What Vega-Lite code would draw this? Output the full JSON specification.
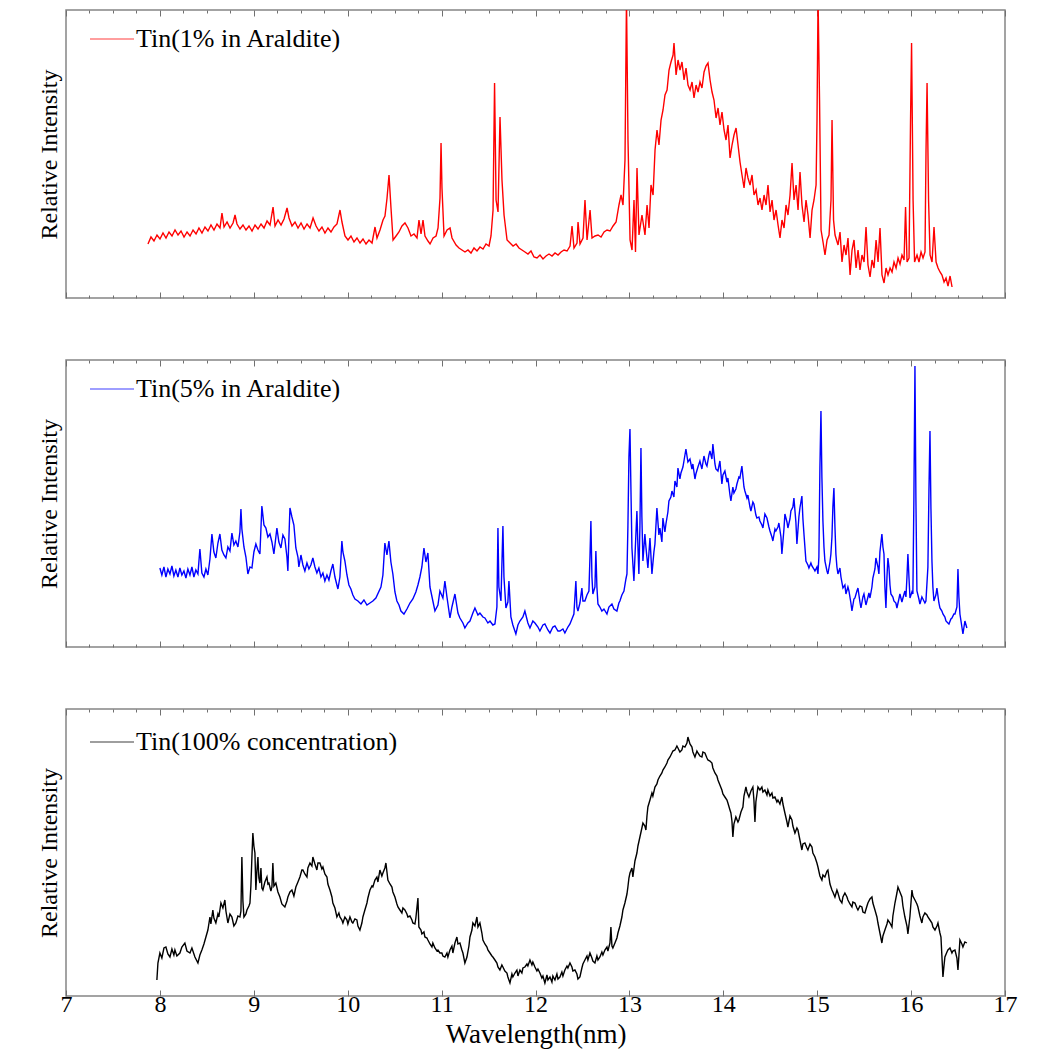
{
"$schema":"https://vega.github.io/schema/vega-lite/v6.json",
"background":"white",
"padding":{"left":36,"top":8,"right":20,"bottom":2},
"spacing":58,
"config":{
 "view":{"stroke":"#858585","strokeWidth":1.5,"fill":"white"},
 "font":"Liberation Serif",
 "axis":{"labelFont":"Liberation Serif","titleFont":"Liberation Serif","titleFontWeight":"normal","titleColor":"black","labelColor":"black","tickColor":"#707070","tickWidth":1,"domain":false,"grid":false},
 "legend":{"labelFont":"Liberation Serif","labelFontSize":26,"labelColor":"black","labelLimit":600,"padding":0,"symbolType":"stroke","symbolSize":1936,"symbolStrokeWidth":1.5,"symbolOpacity":0.5,"labelOffset":1}
},
"datasets":{
"red":[{"x":7.873,"y":54},{"x":7.905,"y":61},{"x":7.937,"y":57},{"x":7.969,"y":63},{"x":8.001,"y":59},{"x":8.033,"y":65},{"x":8.065,"y":60},{"x":8.097,"y":66},{"x":8.129,"y":62},{"x":8.161,"y":68},{"x":8.193,"y":63},{"x":8.225,"y":67},{"x":8.257,"y":61},{"x":8.289,"y":66},{"x":8.321,"y":62},{"x":8.353,"y":68},{"x":8.385,"y":64},{"x":8.416,"y":70},{"x":8.448,"y":65},{"x":8.48,"y":71},{"x":8.512,"y":67},{"x":8.544,"y":73},{"x":8.576,"y":68},{"x":8.608,"y":74},{"x":8.64,"y":70},{"x":8.661,"y":85},{"x":8.683,"y":71},{"x":8.715,"y":76},{"x":8.747,"y":70},{"x":8.779,"y":75},{"x":8.8,"y":83},{"x":8.821,"y":74},{"x":8.853,"y":69},{"x":8.885,"y":73},{"x":8.917,"y":68},{"x":8.949,"y":72},{"x":8.981,"y":67},{"x":9.013,"y":73},{"x":9.045,"y":69},{"x":9.077,"y":74},{"x":9.109,"y":70},{"x":9.141,"y":77},{"x":9.173,"y":73},{"x":9.205,"y":91},{"x":9.226,"y":72},{"x":9.258,"y":78},{"x":9.29,"y":73},{"x":9.322,"y":79},{"x":9.354,"y":90},{"x":9.375,"y":80},{"x":9.407,"y":72},{"x":9.439,"y":76},{"x":9.471,"y":70},{"x":9.503,"y":75},{"x":9.535,"y":69},{"x":9.567,"y":74},{"x":9.599,"y":70},{"x":9.631,"y":80},{"x":9.663,"y":72},{"x":9.694,"y":67},{"x":9.726,"y":71},{"x":9.758,"y":65},{"x":9.79,"y":70},{"x":9.822,"y":66},{"x":9.854,"y":71},{"x":9.886,"y":74},{"x":9.918,"y":88},{"x":9.939,"y":76},{"x":9.971,"y":62},{"x":10.003,"y":58},{"x":10.035,"y":62},{"x":10.067,"y":56},{"x":10.099,"y":60},{"x":10.131,"y":55},{"x":10.163,"y":59},{"x":10.195,"y":54},{"x":10.227,"y":58},{"x":10.259,"y":55},{"x":10.291,"y":71},{"x":10.312,"y":60},{"x":10.344,"y":68},{"x":10.376,"y":78},{"x":10.397,"y":82},{"x":10.419,"y":100},{"x":10.44,"y":123},{"x":10.461,"y":90},{"x":10.483,"y":58},{"x":10.515,"y":62},{"x":10.546,"y":66},{"x":10.578,"y":72},{"x":10.61,"y":75},{"x":10.642,"y":70},{"x":10.674,"y":62},{"x":10.706,"y":64},{"x":10.738,"y":60},{"x":10.759,"y":78},{"x":10.781,"y":64},{"x":10.802,"y":78},{"x":10.823,"y":62},{"x":10.855,"y":57},{"x":10.877,"y":54},{"x":10.909,"y":60},{"x":10.941,"y":62},{"x":10.962,"y":70},{"x":10.983,"y":100},{"x":10.994,"y":155},{"x":11.004,"y":110},{"x":11.026,"y":62},{"x":11.058,"y":68},{"x":11.09,"y":70},{"x":11.111,"y":60},{"x":11.154,"y":53},{"x":11.185,"y":50},{"x":11.217,"y":48},{"x":11.249,"y":46},{"x":11.281,"y":48},{"x":11.313,"y":45},{"x":11.345,"y":50},{"x":11.377,"y":47},{"x":11.409,"y":51},{"x":11.441,"y":49},{"x":11.473,"y":54},{"x":11.505,"y":52},{"x":11.526,"y":62},{"x":11.548,"y":88},{"x":11.564,"y":215},{"x":11.58,"y":98},{"x":11.601,"y":86},{"x":11.622,"y":181},{"x":11.643,"y":118},{"x":11.665,"y":83},{"x":11.697,"y":58},{"x":11.729,"y":55},{"x":11.761,"y":52},{"x":11.793,"y":54},{"x":11.824,"y":50},{"x":11.856,"y":48},{"x":11.888,"y":46},{"x":11.92,"y":44},{"x":11.952,"y":47},{"x":11.984,"y":41},{"x":12.016,"y":40},{"x":12.048,"y":43},{"x":12.08,"y":39},{"x":12.112,"y":42},{"x":12.144,"y":44},{"x":12.176,"y":42},{"x":12.208,"y":45},{"x":12.24,"y":43},{"x":12.272,"y":46},{"x":12.304,"y":48},{"x":12.336,"y":47},{"x":12.368,"y":52},{"x":12.389,"y":72},{"x":12.41,"y":50},{"x":12.442,"y":55},{"x":12.453,"y":76},{"x":12.474,"y":54},{"x":12.506,"y":60},{"x":12.527,"y":98},{"x":12.549,"y":58},{"x":12.581,"y":88},{"x":12.602,"y":60},{"x":12.634,"y":62},{"x":12.666,"y":63},{"x":12.698,"y":61},{"x":12.73,"y":66},{"x":12.762,"y":68},{"x":12.794,"y":67},{"x":12.826,"y":72},{"x":12.858,"y":76},{"x":12.889,"y":93},{"x":12.911,"y":103},{"x":12.932,"y":93},{"x":12.953,"y":138},{"x":12.969,"y":300},{"x":12.985,"y":158},{"x":13.007,"y":58},{"x":13.028,"y":48},{"x":13.049,"y":98},{"x":13.065,"y":46},{"x":13.081,"y":130},{"x":13.102,"y":63},{"x":13.134,"y":83},{"x":13.166,"y":63},{"x":13.188,"y":93},{"x":13.209,"y":70},{"x":13.23,"y":113},{"x":13.252,"y":103},{"x":13.273,"y":148},{"x":13.294,"y":168},{"x":13.315,"y":153},{"x":13.337,"y":178},{"x":13.358,"y":188},{"x":13.379,"y":203},{"x":13.401,"y":208},{"x":13.422,"y":228},{"x":13.443,"y":236},{"x":13.465,"y":243},{"x":13.475,"y":255},{"x":13.497,"y":223},{"x":13.518,"y":238},{"x":13.539,"y":228},{"x":13.56,"y":236},{"x":13.582,"y":218},{"x":13.603,"y":230},{"x":13.624,"y":213},{"x":13.646,"y":208},{"x":13.667,"y":216},{"x":13.688,"y":200},{"x":13.71,"y":213},{"x":13.731,"y":206},{"x":13.752,"y":216},{"x":13.773,"y":210},{"x":13.795,"y":226},{"x":13.816,"y":232},{"x":13.837,"y":235},{"x":13.859,"y":218},{"x":13.88,"y":206},{"x":13.901,"y":198},{"x":13.923,"y":180},{"x":13.944,"y":190},{"x":13.965,"y":173},{"x":13.986,"y":186},{"x":14.008,"y":168},{"x":14.029,"y":158},{"x":14.05,"y":173},{"x":14.072,"y":140},{"x":14.093,"y":153},{"x":14.114,"y":163},{"x":14.136,"y":170},{"x":14.157,"y":153},{"x":14.178,"y":136},{"x":14.199,"y":123},{"x":14.221,"y":110},{"x":14.242,"y":130},{"x":14.263,"y":120},{"x":14.285,"y":113},{"x":14.306,"y":123},{"x":14.327,"y":103},{"x":14.349,"y":108},{"x":14.37,"y":93},{"x":14.391,"y":100},{"x":14.412,"y":88},{"x":14.434,"y":103},{"x":14.455,"y":93},{"x":14.476,"y":113},{"x":14.498,"y":86},{"x":14.519,"y":98},{"x":14.54,"y":78},{"x":14.562,"y":88},{"x":14.583,"y":73},{"x":14.604,"y":60},{"x":14.625,"y":78},{"x":14.647,"y":70},{"x":14.668,"y":93},{"x":14.689,"y":83},{"x":14.711,"y":103},{"x":14.732,"y":135},{"x":14.753,"y":98},{"x":14.775,"y":113},{"x":14.796,"y":88},{"x":14.817,"y":126},{"x":14.838,"y":93},{"x":14.86,"y":76},{"x":14.881,"y":98},{"x":14.902,"y":83},{"x":14.924,"y":60},{"x":14.945,"y":88},{"x":14.966,"y":98},{"x":14.988,"y":113},{"x":14.998,"y":178},{"x":15.009,"y":300},{"x":15.025,"y":198},{"x":15.041,"y":68},{"x":15.062,"y":56},{"x":15.083,"y":43},{"x":15.105,"y":58},{"x":15.126,"y":63},{"x":15.147,"y":98},{"x":15.158,"y":178},{"x":15.174,"y":78},{"x":15.19,"y":63},{"x":15.222,"y":53},{"x":15.243,"y":66},{"x":15.264,"y":36},{"x":15.286,"y":53},{"x":15.307,"y":43},{"x":15.328,"y":60},{"x":15.35,"y":23},{"x":15.371,"y":48},{"x":15.392,"y":58},{"x":15.414,"y":30},{"x":15.435,"y":48},{"x":15.456,"y":28},{"x":15.477,"y":43},{"x":15.499,"y":36},{"x":15.52,"y":71},{"x":15.541,"y":33},{"x":15.563,"y":21},{"x":15.584,"y":38},{"x":15.605,"y":30},{"x":15.627,"y":58},{"x":15.648,"y":36},{"x":15.669,"y":70},{"x":15.69,"y":23},{"x":15.712,"y":15},{"x":15.733,"y":30},{"x":15.754,"y":23},{"x":15.776,"y":30},{"x":15.797,"y":26},{"x":15.818,"y":36},{"x":15.84,"y":30},{"x":15.861,"y":40},{"x":15.882,"y":34},{"x":15.903,"y":43},{"x":15.925,"y":38},{"x":15.941,"y":91},{"x":15.957,"y":36},{"x":15.978,"y":40},{"x":15.994,"y":178},{"x":16.005,"y":255},{"x":16.021,"y":98},{"x":16.037,"y":36},{"x":16.063,"y":43},{"x":16.084,"y":36},{"x":16.106,"y":46},{"x":16.127,"y":40},{"x":16.148,"y":46},{"x":16.159,"y":148},{"x":16.17,"y":215},{"x":16.186,"y":98},{"x":16.202,"y":43},{"x":16.223,"y":36},{"x":16.244,"y":71},{"x":16.266,"y":36},{"x":16.287,"y":30},{"x":16.308,"y":26},{"x":16.329,"y":23},{"x":16.351,"y":16},{"x":16.372,"y":20},{"x":16.393,"y":12},{"x":16.415,"y":22},{"x":16.436,"y":11}],
"blue":[{"x":8.0,"y":79},{"x":8.021,"y":72},{"x":8.043,"y":80},{"x":8.064,"y":70},{"x":8.085,"y":78},{"x":8.107,"y":73},{"x":8.128,"y":81},{"x":8.149,"y":71},{"x":8.17,"y":77},{"x":8.192,"y":70},{"x":8.213,"y":79},{"x":8.234,"y":72},{"x":8.256,"y":76},{"x":8.277,"y":69},{"x":8.298,"y":78},{"x":8.32,"y":72},{"x":8.341,"y":80},{"x":8.362,"y":70},{"x":8.383,"y":77},{"x":8.405,"y":73},{"x":8.426,"y":98},{"x":8.447,"y":74},{"x":8.469,"y":70},{"x":8.49,"y":78},{"x":8.511,"y":72},{"x":8.533,"y":88},{"x":8.554,"y":113},{"x":8.575,"y":95},{"x":8.596,"y":89},{"x":8.618,"y":104},{"x":8.639,"y":113},{"x":8.66,"y":97},{"x":8.682,"y":92},{"x":8.703,"y":89},{"x":8.724,"y":100},{"x":8.746,"y":96},{"x":8.767,"y":114},{"x":8.788,"y":102},{"x":8.809,"y":106},{"x":8.831,"y":100},{"x":8.852,"y":115},{"x":8.863,"y":138},{"x":8.873,"y":118},{"x":8.895,"y":100},{"x":8.916,"y":90},{"x":8.937,"y":73},{"x":8.959,"y":80},{"x":8.98,"y":79},{"x":9.001,"y":95},{"x":9.022,"y":103},{"x":9.044,"y":97},{"x":9.065,"y":93},{"x":9.086,"y":141},{"x":9.108,"y":122},{"x":9.129,"y":119},{"x":9.15,"y":110},{"x":9.172,"y":113},{"x":9.193,"y":105},{"x":9.214,"y":93},{"x":9.235,"y":110},{"x":9.246,"y":119},{"x":9.267,"y":105},{"x":9.289,"y":99},{"x":9.31,"y":112},{"x":9.331,"y":108},{"x":9.353,"y":90},{"x":9.363,"y":76},{"x":9.374,"y":110},{"x":9.385,"y":139},{"x":9.406,"y":130},{"x":9.427,"y":122},{"x":9.448,"y":99},{"x":9.47,"y":90},{"x":9.48,"y":80},{"x":9.502,"y":92},{"x":9.523,"y":82},{"x":9.544,"y":76},{"x":9.566,"y":84},{"x":9.587,"y":78},{"x":9.608,"y":82},{"x":9.629,"y":89},{"x":9.651,"y":80},{"x":9.672,"y":74},{"x":9.693,"y":79},{"x":9.715,"y":70},{"x":9.736,"y":74},{"x":9.757,"y":66},{"x":9.779,"y":72},{"x":9.8,"y":67},{"x":9.821,"y":76},{"x":9.842,"y":83},{"x":9.864,"y":70},{"x":9.885,"y":62},{"x":9.896,"y":58},{"x":9.917,"y":70},{"x":9.938,"y":106},{"x":9.949,"y":95},{"x":9.97,"y":86},{"x":9.992,"y":72},{"x":10.013,"y":62},{"x":10.034,"y":58},{"x":10.055,"y":52},{"x":10.077,"y":48},{"x":10.109,"y":46},{"x":10.141,"y":43},{"x":10.173,"y":47},{"x":10.205,"y":42},{"x":10.237,"y":44},{"x":10.268,"y":46},{"x":10.3,"y":49},{"x":10.354,"y":60},{"x":10.375,"y":72},{"x":10.396,"y":104},{"x":10.418,"y":92},{"x":10.439,"y":106},{"x":10.46,"y":85},{"x":10.481,"y":73},{"x":10.503,"y":55},{"x":10.524,"y":46},{"x":10.546,"y":42},{"x":10.567,"y":36},{"x":10.599,"y":33},{"x":10.631,"y":38},{"x":10.663,"y":44},{"x":10.694,"y":48},{"x":10.726,"y":55},{"x":10.748,"y":62},{"x":10.769,"y":70},{"x":10.79,"y":80},{"x":10.812,"y":99},{"x":10.833,"y":85},{"x":10.854,"y":94},{"x":10.876,"y":60},{"x":10.907,"y":46},{"x":10.929,"y":36},{"x":10.961,"y":42},{"x":10.982,"y":56},{"x":11.014,"y":49},{"x":11.035,"y":66},{"x":11.057,"y":50},{"x":11.089,"y":29},{"x":11.11,"y":40},{"x":11.142,"y":53},{"x":11.174,"y":34},{"x":11.195,"y":29},{"x":11.227,"y":24},{"x":11.248,"y":19},{"x":11.28,"y":24},{"x":11.302,"y":26},{"x":11.333,"y":34},{"x":11.355,"y":39},{"x":11.387,"y":32},{"x":11.408,"y":34},{"x":11.44,"y":30},{"x":11.461,"y":29},{"x":11.493,"y":24},{"x":11.515,"y":26},{"x":11.546,"y":22},{"x":11.568,"y":23},{"x":11.589,"y":40},{"x":11.6,"y":119},{"x":11.61,"y":60},{"x":11.632,"y":46},{"x":11.653,"y":121},{"x":11.664,"y":70},{"x":11.685,"y":39},{"x":11.706,"y":45},{"x":11.717,"y":66},{"x":11.738,"y":30},{"x":11.759,"y":22},{"x":11.791,"y":13},{"x":11.813,"y":22},{"x":11.834,"y":26},{"x":11.866,"y":30},{"x":11.887,"y":36},{"x":11.919,"y":24},{"x":11.941,"y":19},{"x":11.972,"y":26},{"x":11.994,"y":24},{"x":12.026,"y":20},{"x":12.047,"y":16},{"x":12.079,"y":22},{"x":12.1,"y":23},{"x":12.132,"y":17},{"x":12.154,"y":14},{"x":12.185,"y":20},{"x":12.207,"y":21},{"x":12.239,"y":16},{"x":12.26,"y":16},{"x":12.292,"y":18},{"x":12.313,"y":14},{"x":12.345,"y":20},{"x":12.367,"y":23},{"x":12.388,"y":28},{"x":12.409,"y":33},{"x":12.43,"y":66},{"x":12.441,"y":40},{"x":12.452,"y":36},{"x":12.473,"y":44},{"x":12.494,"y":59},{"x":12.505,"y":46},{"x":12.526,"y":46},{"x":12.548,"y":52},{"x":12.569,"y":56},{"x":12.58,"y":90},{"x":12.59,"y":126},{"x":12.601,"y":70},{"x":12.611,"y":53},{"x":12.633,"y":60},{"x":12.643,"y":96},{"x":12.654,"y":60},{"x":12.665,"y":43},{"x":12.686,"y":40},{"x":12.707,"y":36},{"x":12.729,"y":38},{"x":12.761,"y":33},{"x":12.782,"y":40},{"x":12.814,"y":43},{"x":12.835,"y":38},{"x":12.867,"y":36},{"x":12.888,"y":44},{"x":12.899,"y":46},{"x":12.92,"y":52},{"x":12.942,"y":56},{"x":12.963,"y":68},{"x":12.974,"y":73},{"x":12.984,"y":120},{"x":12.995,"y":190},{"x":13.006,"y":218},{"x":13.016,"y":160},{"x":13.027,"y":99},{"x":13.048,"y":66},{"x":13.059,"y":90},{"x":13.08,"y":136},{"x":13.091,"y":100},{"x":13.101,"y":73},{"x":13.112,"y":120},{"x":13.123,"y":199},{"x":13.133,"y":130},{"x":13.144,"y":86},{"x":13.165,"y":113},{"x":13.176,"y":100},{"x":13.197,"y":79},{"x":13.219,"y":109},{"x":13.24,"y":73},{"x":13.261,"y":95},{"x":13.272,"y":103},{"x":13.293,"y":139},{"x":13.314,"y":112},{"x":13.325,"y":119},{"x":13.346,"y":105},{"x":13.357,"y":129},{"x":13.378,"y":115},{"x":13.389,"y":123},{"x":13.41,"y":135},{"x":13.421,"y":146},{"x":13.442,"y":150},{"x":13.453,"y":156},{"x":13.474,"y":150},{"x":13.485,"y":166},{"x":13.506,"y":160},{"x":13.517,"y":179},{"x":13.538,"y":168},{"x":13.549,"y":174},{"x":13.57,"y":180},{"x":13.581,"y":186},{"x":13.602,"y":198},{"x":13.623,"y":185},{"x":13.645,"y":188},{"x":13.666,"y":178},{"x":13.676,"y":183},{"x":13.698,"y":168},{"x":13.708,"y":173},{"x":13.73,"y":180},{"x":13.751,"y":186},{"x":13.772,"y":178},{"x":13.794,"y":191},{"x":13.815,"y":183},{"x":13.826,"y":181},{"x":13.847,"y":192},{"x":13.858,"y":196},{"x":13.879,"y":188},{"x":13.889,"y":203},{"x":13.911,"y":183},{"x":13.921,"y":178},{"x":13.943,"y":176},{"x":13.964,"y":186},{"x":13.985,"y":163},{"x":13.996,"y":172},{"x":14.017,"y":176},{"x":14.039,"y":165},{"x":14.049,"y":169},{"x":14.071,"y":152},{"x":14.081,"y":146},{"x":14.102,"y":160},{"x":14.113,"y":154},{"x":14.134,"y":158},{"x":14.145,"y":163},{"x":14.166,"y":170},{"x":14.177,"y":169},{"x":14.198,"y":181},{"x":14.22,"y":160},{"x":14.23,"y":156},{"x":14.252,"y":149},{"x":14.262,"y":152},{"x":14.284,"y":140},{"x":14.294,"y":136},{"x":14.315,"y":145},{"x":14.326,"y":143},{"x":14.347,"y":132},{"x":14.358,"y":129},{"x":14.379,"y":130},{"x":14.39,"y":126},{"x":14.411,"y":122},{"x":14.422,"y":119},{"x":14.443,"y":133},{"x":14.465,"y":129},{"x":14.486,"y":120},{"x":14.497,"y":116},{"x":14.518,"y":110},{"x":14.528,"y":106},{"x":14.55,"y":118},{"x":14.56,"y":116},{"x":14.582,"y":120},{"x":14.592,"y":124},{"x":14.614,"y":110},{"x":14.624,"y":93},{"x":14.646,"y":118},{"x":14.656,"y":133},{"x":14.678,"y":125},{"x":14.688,"y":119},{"x":14.71,"y":128},{"x":14.72,"y":136},{"x":14.741,"y":140},{"x":14.752,"y":149},{"x":14.773,"y":125},{"x":14.784,"y":103},{"x":14.805,"y":130},{"x":14.816,"y":139},{"x":14.837,"y":151},{"x":14.848,"y":128},{"x":14.859,"y":113},{"x":14.88,"y":86},{"x":14.901,"y":82},{"x":14.912,"y":79},{"x":14.933,"y":84},{"x":14.944,"y":81},{"x":14.965,"y":78},{"x":14.976,"y":76},{"x":14.997,"y":80},{"x":15.008,"y":73},{"x":15.018,"y":90},{"x":15.029,"y":180},{"x":15.04,"y":236},{"x":15.05,"y":170},{"x":15.061,"y":126},{"x":15.072,"y":100},{"x":15.082,"y":86},{"x":15.104,"y":76},{"x":15.114,"y":73},{"x":15.136,"y":85},{"x":15.146,"y":93},{"x":15.157,"y":110},{"x":15.167,"y":140},{"x":15.178,"y":159},{"x":15.189,"y":120},{"x":15.199,"y":93},{"x":15.21,"y":80},{"x":15.221,"y":73},{"x":15.242,"y":79},{"x":15.253,"y":70},{"x":15.274,"y":59},{"x":15.295,"y":62},{"x":15.306,"y":53},{"x":15.327,"y":60},{"x":15.338,"y":56},{"x":15.359,"y":44},{"x":15.37,"y":36},{"x":15.391,"y":48},{"x":15.402,"y":49},{"x":15.423,"y":56},{"x":15.434,"y":59},{"x":15.455,"y":45},{"x":15.466,"y":39},{"x":15.487,"y":50},{"x":15.498,"y":53},{"x":15.519,"y":42},{"x":15.53,"y":46},{"x":15.551,"y":54},{"x":15.562,"y":49},{"x":15.583,"y":60},{"x":15.593,"y":69},{"x":15.615,"y":78},{"x":15.625,"y":89},{"x":15.647,"y":80},{"x":15.657,"y":73},{"x":15.668,"y":95},{"x":15.689,"y":113},{"x":15.7,"y":100},{"x":15.711,"y":93},{"x":15.721,"y":60},{"x":15.732,"y":39},{"x":15.743,"y":70},{"x":15.753,"y":89},{"x":15.764,"y":80},{"x":15.775,"y":62},{"x":15.785,"y":53},{"x":15.806,"y":50},{"x":15.817,"y":46},{"x":15.838,"y":44},{"x":15.849,"y":39},{"x":15.87,"y":48},{"x":15.881,"y":53},{"x":15.902,"y":45},{"x":15.913,"y":49},{"x":15.934,"y":56},{"x":15.945,"y":50},{"x":15.956,"y":70},{"x":15.966,"y":93},{"x":15.977,"y":70},{"x":15.988,"y":49},{"x":16.009,"y":55},{"x":16.019,"y":53},{"x":16.03,"y":150},{"x":16.041,"y":281},{"x":16.051,"y":150},{"x":16.062,"y":56},{"x":16.083,"y":48},{"x":16.094,"y":43},{"x":16.115,"y":50},{"x":16.126,"y":48},{"x":16.147,"y":44},{"x":16.158,"y":46},{"x":16.179,"y":80},{"x":16.19,"y":156},{"x":16.201,"y":216},{"x":16.211,"y":140},{"x":16.222,"y":86},{"x":16.232,"y":60},{"x":16.243,"y":46},{"x":16.264,"y":52},{"x":16.275,"y":59},{"x":16.296,"y":44},{"x":16.307,"y":39},{"x":16.328,"y":36},{"x":16.339,"y":33},{"x":16.36,"y":30},{"x":16.371,"y":26},{"x":16.392,"y":24},{"x":16.403,"y":23},{"x":16.424,"y":28},{"x":16.435,"y":29},{"x":16.456,"y":33},{"x":16.467,"y":33},{"x":16.488,"y":40},{"x":16.499,"y":78},{"x":16.509,"y":50},{"x":16.52,"y":33},{"x":16.541,"y":20},{"x":16.552,"y":13},{"x":16.573,"y":26},{"x":16.594,"y":19}],
"black":[{"x":7.968,"y":16},{"x":7.979,"y":33},{"x":8.0,"y":43},{"x":8.021,"y":38},{"x":8.043,"y":48},{"x":8.064,"y":49},{"x":8.085,"y":42},{"x":8.107,"y":39},{"x":8.128,"y":47},{"x":8.149,"y":41},{"x":8.16,"y":46},{"x":8.181,"y":40},{"x":8.213,"y":43},{"x":8.234,"y":49},{"x":8.266,"y":53},{"x":8.288,"y":45},{"x":8.32,"y":43},{"x":8.341,"y":48},{"x":8.373,"y":39},{"x":8.405,"y":33},{"x":8.426,"y":41},{"x":8.447,"y":46},{"x":8.469,"y":52},{"x":8.49,"y":59},{"x":8.511,"y":66},{"x":8.533,"y":79},{"x":8.543,"y":72},{"x":8.564,"y":86},{"x":8.575,"y":78},{"x":8.596,"y":73},{"x":8.618,"y":82},{"x":8.628,"y":79},{"x":8.65,"y":93},{"x":8.671,"y":88},{"x":8.692,"y":96},{"x":8.703,"y":85},{"x":8.724,"y":73},{"x":8.746,"y":82},{"x":8.767,"y":79},{"x":8.788,"y":70},{"x":8.809,"y":73},{"x":8.831,"y":80},{"x":8.852,"y":79},{"x":8.863,"y":85},{"x":8.873,"y":139},{"x":8.884,"y":95},{"x":8.895,"y":79},{"x":8.916,"y":82},{"x":8.927,"y":86},{"x":8.948,"y":90},{"x":8.959,"y":93},{"x":8.969,"y":110},{"x":8.98,"y":139},{"x":8.99,"y":163},{"x":9.001,"y":150},{"x":9.012,"y":143},{"x":9.022,"y":106},{"x":9.033,"y":125},{"x":9.044,"y":139},{"x":9.054,"y":118},{"x":9.065,"y":113},{"x":9.076,"y":128},{"x":9.086,"y":108},{"x":9.097,"y":106},{"x":9.118,"y":114},{"x":9.14,"y":119},{"x":9.15,"y":112},{"x":9.161,"y":113},{"x":9.182,"y":105},{"x":9.193,"y":109},{"x":9.203,"y":133},{"x":9.214,"y":110},{"x":9.235,"y":113},{"x":9.257,"y":104},{"x":9.278,"y":99},{"x":9.299,"y":92},{"x":9.331,"y":89},{"x":9.353,"y":95},{"x":9.363,"y":99},{"x":9.385,"y":104},{"x":9.406,"y":106},{"x":9.427,"y":100},{"x":9.448,"y":109},{"x":9.47,"y":114},{"x":9.491,"y":119},{"x":9.512,"y":126},{"x":9.523,"y":126},{"x":9.544,"y":122},{"x":9.566,"y":119},{"x":9.576,"y":128},{"x":9.598,"y":133},{"x":9.619,"y":130},{"x":9.629,"y":139},{"x":9.651,"y":132},{"x":9.672,"y":126},{"x":9.683,"y":133},{"x":9.704,"y":133},{"x":9.725,"y":127},{"x":9.736,"y":129},{"x":9.757,"y":122},{"x":9.779,"y":119},{"x":9.789,"y":112},{"x":9.811,"y":106},{"x":9.832,"y":99},{"x":9.842,"y":93},{"x":9.864,"y":88},{"x":9.885,"y":79},{"x":9.906,"y":83},{"x":9.917,"y":79},{"x":9.938,"y":76},{"x":9.949,"y":73},{"x":9.97,"y":79},{"x":9.992,"y":76},{"x":10.002,"y":72},{"x":10.024,"y":79},{"x":10.045,"y":74},{"x":10.055,"y":73},{"x":10.077,"y":77},{"x":10.098,"y":76},{"x":10.109,"y":70},{"x":10.13,"y":66},{"x":10.151,"y":73},{"x":10.162,"y":79},{"x":10.183,"y":86},{"x":10.205,"y":93},{"x":10.215,"y":98},{"x":10.237,"y":106},{"x":10.258,"y":110},{"x":10.268,"y":109},{"x":10.29,"y":116},{"x":10.311,"y":119},{"x":10.322,"y":114},{"x":10.343,"y":126},{"x":10.364,"y":120},{"x":10.375,"y":123},{"x":10.396,"y":128},{"x":10.407,"y":133},{"x":10.418,"y":124},{"x":10.428,"y":116},{"x":10.45,"y":112},{"x":10.471,"y":109},{"x":10.481,"y":104},{"x":10.503,"y":99},{"x":10.524,"y":92},{"x":10.535,"y":89},{"x":10.556,"y":86},{"x":10.577,"y":83},{"x":10.588,"y":88},{"x":10.609,"y":86},{"x":10.631,"y":82},{"x":10.641,"y":79},{"x":10.663,"y":80},{"x":10.684,"y":76},{"x":10.694,"y":73},{"x":10.716,"y":72},{"x":10.726,"y":78},{"x":10.748,"y":98},{"x":10.758,"y":69},{"x":10.78,"y":66},{"x":10.79,"y":62},{"x":10.812,"y":64},{"x":10.822,"y":59},{"x":10.844,"y":58},{"x":10.854,"y":56},{"x":10.876,"y":52},{"x":10.897,"y":49},{"x":10.907,"y":53},{"x":10.929,"y":48},{"x":10.95,"y":45},{"x":10.961,"y":46},{"x":10.982,"y":43},{"x":11.003,"y":43},{"x":11.014,"y":40},{"x":11.035,"y":39},{"x":11.057,"y":43},{"x":11.067,"y":39},{"x":11.089,"y":46},{"x":11.11,"y":50},{"x":11.12,"y":43},{"x":11.142,"y":53},{"x":11.163,"y":59},{"x":11.174,"y":52},{"x":11.195,"y":53},{"x":11.216,"y":46},{"x":11.227,"y":43},{"x":11.248,"y":33},{"x":11.27,"y":39},{"x":11.291,"y":50},{"x":11.302,"y":59},{"x":11.323,"y":66},{"x":11.333,"y":73},{"x":11.355,"y":70},{"x":11.376,"y":79},{"x":11.387,"y":69},{"x":11.408,"y":73},{"x":11.429,"y":63},{"x":11.44,"y":56},{"x":11.461,"y":52},{"x":11.483,"y":49},{"x":11.493,"y":46},{"x":11.515,"y":43},{"x":11.536,"y":40},{"x":11.546,"y":39},{"x":11.568,"y":36},{"x":11.589,"y":33},{"x":11.6,"y":29},{"x":11.621,"y":26},{"x":11.642,"y":31},{"x":11.653,"y":29},{"x":11.674,"y":25},{"x":11.696,"y":23},{"x":11.706,"y":19},{"x":11.728,"y":13},{"x":11.749,"y":22},{"x":11.759,"y":19},{"x":11.781,"y":23},{"x":11.802,"y":26},{"x":11.813,"y":20},{"x":11.834,"y":26},{"x":11.855,"y":23},{"x":11.866,"y":28},{"x":11.887,"y":29},{"x":11.909,"y":32},{"x":11.919,"y":30},{"x":11.941,"y":36},{"x":11.962,"y":31},{"x":11.972,"y":34},{"x":11.994,"y":29},{"x":12.015,"y":25},{"x":12.026,"y":27},{"x":12.047,"y":23},{"x":12.068,"y":18},{"x":12.079,"y":20},{"x":12.1,"y":13},{"x":12.122,"y":21},{"x":12.132,"y":16},{"x":12.154,"y":19},{"x":12.175,"y":14},{"x":12.185,"y":20},{"x":12.207,"y":16},{"x":12.228,"y":22},{"x":12.239,"y":17},{"x":12.26,"y":19},{"x":12.281,"y":24},{"x":12.292,"y":20},{"x":12.313,"y":26},{"x":12.335,"y":30},{"x":12.345,"y":28},{"x":12.367,"y":33},{"x":12.388,"y":29},{"x":12.398,"y":25},{"x":12.42,"y":26},{"x":12.441,"y":22},{"x":12.452,"y":17},{"x":12.473,"y":19},{"x":12.494,"y":28},{"x":12.505,"y":32},{"x":12.526,"y":36},{"x":12.548,"y":40},{"x":12.558,"y":36},{"x":12.58,"y":43},{"x":12.601,"y":38},{"x":12.611,"y":35},{"x":12.633,"y":33},{"x":12.654,"y":40},{"x":12.665,"y":36},{"x":12.686,"y":39},{"x":12.707,"y":44},{"x":12.718,"y":41},{"x":12.739,"y":46},{"x":12.761,"y":49},{"x":12.771,"y":45},{"x":12.793,"y":53},{"x":12.803,"y":69},{"x":12.814,"y":50},{"x":12.824,"y":48},{"x":12.846,"y":53},{"x":12.867,"y":58},{"x":12.878,"y":63},{"x":12.899,"y":70},{"x":12.92,"y":79},{"x":12.931,"y":86},{"x":12.952,"y":93},{"x":12.974,"y":102},{"x":12.984,"y":109},{"x":12.995,"y":118},{"x":13.006,"y":123},{"x":13.027,"y":128},{"x":13.037,"y":119},{"x":13.059,"y":135},{"x":13.08,"y":143},{"x":13.091,"y":150},{"x":13.112,"y":159},{"x":13.133,"y":168},{"x":13.144,"y":173},{"x":13.165,"y":170},{"x":13.176,"y":166},{"x":13.187,"y":180},{"x":13.197,"y":189},{"x":13.219,"y":196},{"x":13.24,"y":203},{"x":13.25,"y":200},{"x":13.272,"y":209},{"x":13.293,"y":212},{"x":13.304,"y":216},{"x":13.325,"y":220},{"x":13.346,"y":223},{"x":13.357,"y":226},{"x":13.378,"y":229},{"x":13.4,"y":233},{"x":13.41,"y":236},{"x":13.432,"y":239},{"x":13.453,"y":243},{"x":13.463,"y":245},{"x":13.485,"y":246},{"x":13.506,"y":250},{"x":13.517,"y":248},{"x":13.538,"y":244},{"x":13.559,"y":246},{"x":13.57,"y":250},{"x":13.591,"y":249},{"x":13.613,"y":253},{"x":13.623,"y":259},{"x":13.645,"y":252},{"x":13.666,"y":249},{"x":13.676,"y":244},{"x":13.698,"y":239},{"x":13.719,"y":245},{"x":13.73,"y":243},{"x":13.751,"y":240},{"x":13.772,"y":239},{"x":13.783,"y":244},{"x":13.804,"y":243},{"x":13.826,"y":238},{"x":13.836,"y":236},{"x":13.858,"y":235},{"x":13.879,"y":233},{"x":13.889,"y":228},{"x":13.911,"y":223},{"x":13.932,"y":220},{"x":13.943,"y":216},{"x":13.964,"y":211},{"x":13.985,"y":206},{"x":13.996,"y":202},{"x":14.017,"y":199},{"x":14.039,"y":196},{"x":14.049,"y":193},{"x":14.071,"y":186},{"x":14.081,"y":183},{"x":14.092,"y":175},{"x":14.102,"y":159},{"x":14.113,"y":172},{"x":14.134,"y":179},{"x":14.156,"y":174},{"x":14.166,"y":176},{"x":14.188,"y":184},{"x":14.209,"y":189},{"x":14.22,"y":200},{"x":14.241,"y":209},{"x":14.252,"y":204},{"x":14.273,"y":199},{"x":14.294,"y":205},{"x":14.315,"y":209},{"x":14.326,"y":196},{"x":14.337,"y":174},{"x":14.347,"y":194},{"x":14.369,"y":209},{"x":14.39,"y":206},{"x":14.411,"y":209},{"x":14.422,"y":204},{"x":14.443,"y":206},{"x":14.465,"y":201},{"x":14.475,"y":206},{"x":14.497,"y":200},{"x":14.518,"y":203},{"x":14.528,"y":198},{"x":14.55,"y":199},{"x":14.571,"y":194},{"x":14.582,"y":196},{"x":14.603,"y":192},{"x":14.624,"y":199},{"x":14.635,"y":192},{"x":14.656,"y":183},{"x":14.678,"y":174},{"x":14.688,"y":169},{"x":14.71,"y":180},{"x":14.731,"y":176},{"x":14.741,"y":170},{"x":14.763,"y":163},{"x":14.784,"y":168},{"x":14.795,"y":166},{"x":14.816,"y":156},{"x":14.837,"y":146},{"x":14.848,"y":152},{"x":14.869,"y":153},{"x":14.891,"y":148},{"x":14.901,"y":146},{"x":14.923,"y":152},{"x":14.944,"y":149},{"x":14.954,"y":143},{"x":14.976,"y":139},{"x":14.997,"y":133},{"x":15.008,"y":129},{"x":15.029,"y":120},{"x":15.05,"y":116},{"x":15.061,"y":121},{"x":15.082,"y":119},{"x":15.104,"y":125},{"x":15.114,"y":126},{"x":15.136,"y":112},{"x":15.157,"y":106},{"x":15.167,"y":104},{"x":15.189,"y":99},{"x":15.21,"y":106},{"x":15.221,"y":103},{"x":15.242,"y":96},{"x":15.263,"y":93},{"x":15.274,"y":99},{"x":15.295,"y":103},{"x":15.317,"y":99},{"x":15.327,"y":96},{"x":15.349,"y":92},{"x":15.37,"y":89},{"x":15.38,"y":94},{"x":15.402,"y":93},{"x":15.423,"y":88},{"x":15.434,"y":86},{"x":15.455,"y":90},{"x":15.476,"y":89},{"x":15.487,"y":84},{"x":15.508,"y":83},{"x":15.53,"y":90},{"x":15.54,"y":93},{"x":15.562,"y":97},{"x":15.583,"y":99},{"x":15.593,"y":93},{"x":15.615,"y":86},{"x":15.636,"y":79},{"x":15.647,"y":73},{"x":15.668,"y":63},{"x":15.689,"y":53},{"x":15.7,"y":60},{"x":15.721,"y":66},{"x":15.743,"y":72},{"x":15.753,"y":76},{"x":15.775,"y":73},{"x":15.796,"y":69},{"x":15.806,"y":80},{"x":15.828,"y":93},{"x":15.849,"y":103},{"x":15.86,"y":109},{"x":15.881,"y":104},{"x":15.902,"y":99},{"x":15.913,"y":90},{"x":15.934,"y":79},{"x":15.956,"y":70},{"x":15.966,"y":62},{"x":15.988,"y":80},{"x":16.009,"y":106},{"x":16.019,"y":100},{"x":16.041,"y":96},{"x":16.062,"y":92},{"x":16.073,"y":89},{"x":16.094,"y":80},{"x":16.115,"y":73},{"x":16.126,"y":79},{"x":16.147,"y":83},{"x":16.169,"y":81},{"x":16.179,"y":79},{"x":16.201,"y":76},{"x":16.222,"y":73},{"x":16.232,"y":69},{"x":16.254,"y":66},{"x":16.275,"y":70},{"x":16.286,"y":73},{"x":16.307,"y":63},{"x":16.318,"y":59},{"x":16.328,"y":40},{"x":16.339,"y":19},{"x":16.35,"y":30},{"x":16.36,"y":39},{"x":16.382,"y":44},{"x":16.392,"y":46},{"x":16.414,"y":48},{"x":16.435,"y":43},{"x":16.445,"y":45},{"x":16.467,"y":46},{"x":16.488,"y":38},{"x":16.499,"y":26},{"x":16.509,"y":40},{"x":16.52,"y":56},{"x":16.541,"y":52},{"x":16.552,"y":49},{"x":16.573,"y":54},{"x":16.594,"y":53}]
},
"vconcat":[
 {"width":939,"height":288,
  "layer":[
   {"data":{"name":"red"},"mark":{"type":"line","strokeWidth":1.4,"clip":true},
    "encoding":{
     "x":{"field":"x","type":"quantitative","scale":{"domain":[7,17],"nice":false,"zero":false},
      "axis":{"orient":"bottom","values":[7,7.25,7.5,7.75,8,8.25,8.5,8.75,9,9.25,9.5,9.75,10,10.25,10.5,10.75,11,11.25,11.5,11.75,12,12.25,12.5,12.75,13,13.25,13.5,13.75,14,14.25,14.5,14.75,15,15.25,15.5,15.75,16,16.25,16.5,16.75,17],"tickSize":{"condition":{"test":"datum.value % 1 === 0","value":-6},"value":-3},"labels":false,"title":null}},
     "y":{"field":"y","type":"quantitative","scale":{"domain":[0,288],"nice":false},
      "axis":{"title":"Relative Intensity","ticks":false,"labels":false,"titleFontSize":24,"titlePadding":5}},
     "color":{"datum":"Tin(1% in Araldite)","scale":{"range":["#ff0000"]},
      "legend":{"title":null,"orient":"none","legendX":23,"legendY":6}}
    }},
   {"data":{"values":[]},"mark":"rule",
    "encoding":{"x":{"field":"x","type":"quantitative",
     "axis":{"orient":"top","values":[7,7.25,7.5,7.75,8,8.25,8.5,8.75,9,9.25,9.5,9.75,10,10.25,10.5,10.75,11,11.25,11.5,11.75,12,12.25,12.5,12.75,13,13.25,13.5,13.75,14,14.25,14.5,14.75,15,15.25,15.5,15.75,16,16.25,16.5,16.75,17],"tickSize":{"condition":{"test":"datum.value % 1 === 0","value":-6},"value":-3},"labels":false,"title":null}}}}
  ],
  "resolve":{"axis":{"x":"independent"}}
 },
 {"width":939,"height":287,
  "layer":[
   {"data":{"name":"blue"},"mark":{"type":"line","strokeWidth":1.4,"clip":true},
    "encoding":{
     "x":{"field":"x","type":"quantitative","scale":{"domain":[7,17],"nice":false,"zero":false},
      "axis":{"orient":"bottom","values":[7,7.25,7.5,7.75,8,8.25,8.5,8.75,9,9.25,9.5,9.75,10,10.25,10.5,10.75,11,11.25,11.5,11.75,12,12.25,12.5,12.75,13,13.25,13.5,13.75,14,14.25,14.5,14.75,15,15.25,15.5,15.75,16,16.25,16.5,16.75,17],"tickSize":{"condition":{"test":"datum.value % 1 === 0","value":-6},"value":-3},"labels":false,"title":null}},
     "y":{"field":"y","type":"quantitative","scale":{"domain":[0,287],"nice":false},
      "axis":{"title":"Relative Intensity","ticks":false,"labels":false,"titleFontSize":24,"titlePadding":5}},
     "color":{"datum":"Tin(5% in Araldite)","scale":{"range":["#0000ff"]},
      "legend":{"title":null,"orient":"none","legendX":23,"legendY":6}}
    }},
   {"data":{"values":[]},"mark":"rule",
    "encoding":{"x":{"field":"x","type":"quantitative",
     "axis":{"orient":"top","values":[7,7.25,7.5,7.75,8,8.25,8.5,8.75,9,9.25,9.5,9.75,10,10.25,10.5,10.75,11,11.25,11.5,11.75,12,12.25,12.5,12.75,13,13.25,13.5,13.75,14,14.25,14.5,14.75,15,15.25,15.5,15.75,16,16.25,16.5,16.75,17],"tickSize":{"condition":{"test":"datum.value % 1 === 0","value":-6},"value":-3},"labels":false,"title":null}}}}
  ],
  "resolve":{"axis":{"x":"independent"}}
 },
 {"width":939,"height":287,
  "layer":[
   {"data":{"name":"black"},"mark":{"type":"line","strokeWidth":1.4,"clip":true},
    "encoding":{
     "x":{"field":"x","type":"quantitative","scale":{"domain":[7,17],"nice":false,"zero":false},
      "axis":{"orient":"bottom","values":[7,7.25,7.5,7.75,8,8.25,8.5,8.75,9,9.25,9.5,9.75,10,10.25,10.5,10.75,11,11.25,11.5,11.75,12,12.25,12.5,12.75,13,13.25,13.5,13.75,14,14.25,14.5,14.75,15,15.25,15.5,15.75,16,16.25,16.5,16.75,17],"tickSize":{"condition":{"test":"datum.value % 1 === 0","value":-6},"value":-3},"labels":true,"format":"d","labelExpr":"datum.value % 1 === 0 ? datum.label : ''","labelFlush":false,"labelOverlap":false,"labelFontSize":24,"labelPadding":2,"title":"Wavelength(nm)","titleFontSize":27,"titlePadding":5}},
     "y":{"field":"y","type":"quantitative","scale":{"domain":[0,287],"nice":false},
      "axis":{"title":"Relative Intensity","ticks":false,"labels":false,"titleFontSize":24,"titlePadding":5}},
     "color":{"datum":"Tin(100% concentration)","scale":{"range":["#000000"]},
      "legend":{"title":null,"orient":"none","legendX":23,"legendY":10}}
    }},
   {"data":{"values":[]},"mark":"rule",
    "encoding":{"x":{"field":"x","type":"quantitative",
     "axis":{"orient":"top","values":[7,7.25,7.5,7.75,8,8.25,8.5,8.75,9,9.25,9.5,9.75,10,10.25,10.5,10.75,11,11.25,11.5,11.75,12,12.25,12.5,12.75,13,13.25,13.5,13.75,14,14.25,14.5,14.75,15,15.25,15.5,15.75,16,16.25,16.5,16.75,17],"tickSize":{"condition":{"test":"datum.value % 1 === 0","value":-6},"value":-3},"labels":false,"title":null}}}}
  ],
  "resolve":{"axis":{"x":"independent"}}
 }
],
"resolve":{"scale":{"color":"independent","y":"independent"},"legend":{"color":"independent"}}
}
